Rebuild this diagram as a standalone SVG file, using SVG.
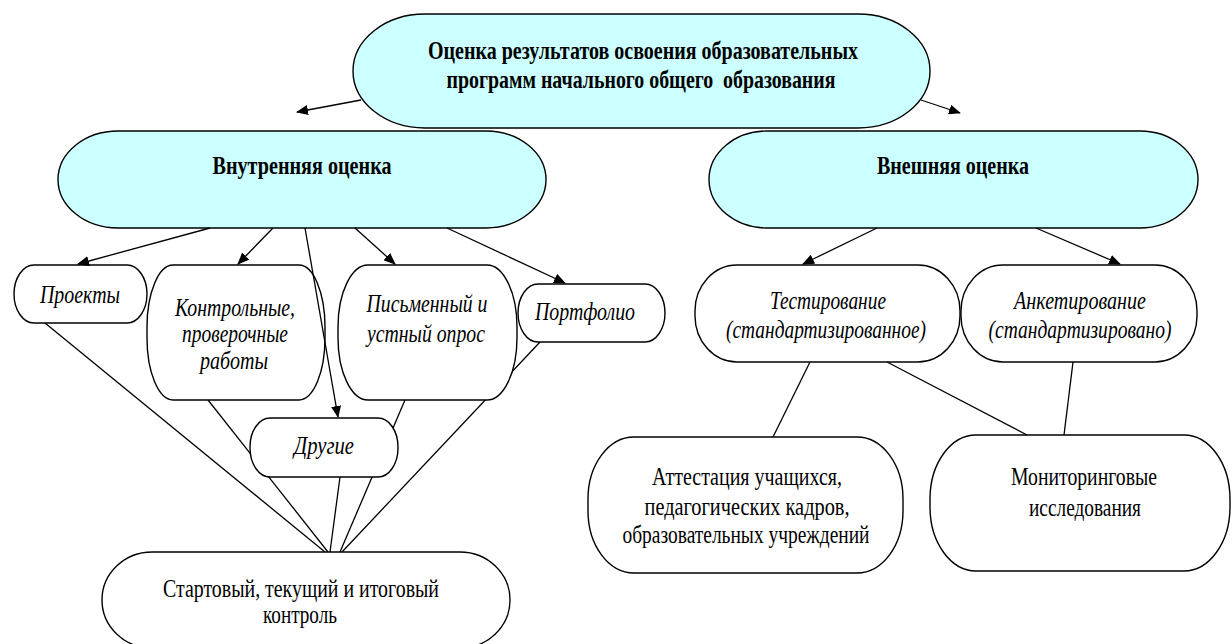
<svg xmlns="http://www.w3.org/2000/svg" width="1232" height="644" viewBox="0 0 1232 644">
<style>
.cy{fill:#ccffff;stroke:#000;stroke-width:1.4}
.bx{fill:#fff;stroke:#000;stroke-width:1.4}
.ln{fill:none;stroke:#000;stroke-width:1.3}
.ar{fill:none;stroke:#000;stroke-width:1.3;marker-end:url(#ah)}
.pre{white-space:pre}
</style>
<defs>
<marker id="ah" markerUnits="userSpaceOnUse" markerWidth="12" markerHeight="10" refX="11" refY="5" orient="auto">
<path d="M0,0 L12,5 L0,10 z" fill="#000"/>
</marker>
</defs>
<rect width="1232" height="644" fill="#fff"/>

<g id="connectors-under">
<line class="ln" x1="45" y1="323" x2="325" y2="552"/>
<line class="ln" x1="208" y1="400" x2="328" y2="552"/>
<line class="ln" x1="340" y1="477" x2="330" y2="552"/>
<line class="ln" x1="405" y1="400" x2="340" y2="552"/>
<line class="ln" x1="540" y1="342" x2="342" y2="552"/>
</g>

<g id="node-root" font-family="'Liberation Serif', serif" font-size="26" font-weight="bold" text-anchor="middle">
<rect class="cy" x="353" y="14" width="577" height="114" rx="72" ry="57"/>
<text x="643" y="59" textLength="430" lengthAdjust="spacingAndGlyphs">Оценка результатов освоения образовательных</text>
<text class="pre" x="641" y="88" textLength="389" lengthAdjust="spacingAndGlyphs">программ начального общего  образования</text>
</g>

<g id="node-internal" font-family="'Liberation Serif', serif" font-size="26" font-weight="bold" text-anchor="middle">
<rect class="cy" x="58" y="131" width="488" height="97" rx="60" ry="48.5"/>
<text x="302" y="174" textLength="179" lengthAdjust="spacingAndGlyphs">Внутренняя оценка</text>
</g>

<g id="node-external" font-family="'Liberation Serif', serif" font-size="26" font-weight="bold" text-anchor="middle">
<rect class="cy" x="709" y="131" width="489" height="97" rx="58" ry="48.5"/>
<text x="953" y="174" textLength="152" lengthAdjust="spacingAndGlyphs">Внешняя оценка</text>
</g>

<g id="node-projects" font-family="'Liberation Serif', serif" font-size="26" font-style="italic" text-anchor="middle">
<rect class="bx" x="14" y="265" width="133" height="58" rx="20" ry="29"/>
<text x="80" y="303" textLength="80" lengthAdjust="spacingAndGlyphs">Проекты</text>
</g>

<g id="node-control-works" font-family="'Liberation Serif', serif" font-size="26" font-style="italic" text-anchor="middle">
<rect class="bx" x="147" y="265" width="178" height="135" rx="26" ry="62"/>
<text x="235" y="316" textLength="120" lengthAdjust="spacingAndGlyphs">Контрольные,</text>
<text x="235" y="342" textLength="106" lengthAdjust="spacingAndGlyphs">проверочные</text>
<text x="234" y="369" textLength="68" lengthAdjust="spacingAndGlyphs">работы</text>
</g>

<g id="node-survey" font-family="'Liberation Serif', serif" font-size="26" font-style="italic" text-anchor="middle">
<rect class="bx" x="338" y="265" width="179" height="135" rx="30" ry="62"/>
<text x="427" y="312" textLength="121" lengthAdjust="spacingAndGlyphs">Письменный и</text>
<text x="426" y="342" textLength="118" lengthAdjust="spacingAndGlyphs">устный опрос</text>
</g>

<g id="node-portfolio" font-family="'Liberation Serif', serif" font-size="26" font-style="italic" text-anchor="middle">
<rect class="bx" x="518" y="284" width="147" height="58" rx="20" ry="29"/>
<text x="585" y="320" textLength="100" lengthAdjust="spacingAndGlyphs">Портфолио</text>
</g>

<g id="node-other" font-family="'Liberation Serif', serif" font-size="26" font-style="italic" text-anchor="middle">
<rect class="bx" x="250" y="418" width="148" height="59" rx="20" ry="29"/>
<text x="324" y="454" textLength="60" lengthAdjust="spacingAndGlyphs">Другие</text>
</g>

<g id="node-control" font-family="'Liberation Serif', serif" font-size="26" text-anchor="middle">
<rect class="bx" x="102" y="552" width="408" height="96" rx="50" ry="48"/>
<text x="301" y="597" textLength="276" lengthAdjust="spacingAndGlyphs">Стартовый, текущий и итоговый</text>
<text x="300" y="623" textLength="74" lengthAdjust="spacingAndGlyphs">контроль</text>
</g>

<g id="node-testing" font-family="'Liberation Serif', serif" font-size="26" font-style="italic" text-anchor="middle">
<rect class="bx" x="695" y="265" width="265" height="97" rx="42" ry="46"/>
<text x="828" y="309" textLength="116" lengthAdjust="spacingAndGlyphs">Тестирование</text>
<text x="826" y="338" textLength="200" lengthAdjust="spacingAndGlyphs">(стандартизированное)</text>
</g>

<g id="node-questioning" font-family="'Liberation Serif', serif" font-size="26" font-style="italic" text-anchor="middle">
<rect class="bx" x="961" y="265" width="236" height="97" rx="42" ry="46"/>
<text x="1080" y="309" textLength="132" lengthAdjust="spacingAndGlyphs">Анкетирование</text>
<text x="1080" y="338" textLength="183" lengthAdjust="spacingAndGlyphs">(стандартизировано)</text>
</g>

<g id="node-attestation" font-family="'Liberation Serif', serif" font-size="26" text-anchor="middle">
<rect class="bx" x="588" y="437" width="315" height="136" rx="46" ry="62"/>
<text x="747" y="485" textLength="190" lengthAdjust="spacingAndGlyphs">Аттестация учащихся,</text>
<text x="747" y="515" textLength="205" lengthAdjust="spacingAndGlyphs">педагогических кадров,</text>
<text x="746" y="543" textLength="247" lengthAdjust="spacingAndGlyphs">образовательных учреждений</text>
</g>

<g id="node-monitoring" font-family="'Liberation Serif', serif" font-size="26" text-anchor="middle">
<rect class="bx" x="930" y="435" width="300" height="136" rx="46" ry="64"/>
<text x="1084" y="485" textLength="146" lengthAdjust="spacingAndGlyphs">Мониторинговые</text>
<text x="1085" y="516" textLength="112" lengthAdjust="spacingAndGlyphs">исследования</text>
</g>

<g id="connectors">
<line class="ar" x1="361" y1="100" x2="297" y2="112"/>
<line class="ar" x1="921" y1="100" x2="960" y2="113"/>
<line class="ar" x1="210" y1="228" x2="78" y2="264"/>
<line class="ar" x1="273" y1="228" x2="238" y2="264"/>
<line class="ar" x1="305" y1="228" x2="338" y2="417"/>
<line class="ar" x1="355" y1="228" x2="395" y2="264"/>
<line class="ar" x1="447" y1="228" x2="565" y2="283"/>
<line class="ar" x1="877" y1="228" x2="803" y2="264"/>
<line class="ar" x1="1036" y1="228" x2="1120" y2="264"/>
<line class="ln" x1="810" y1="362" x2="773" y2="437"/>
<line class="ln" x1="887" y1="362" x2="1027" y2="435"/>
<line class="ln" x1="1073" y1="362" x2="1064" y2="435"/>
</g>
</svg>
